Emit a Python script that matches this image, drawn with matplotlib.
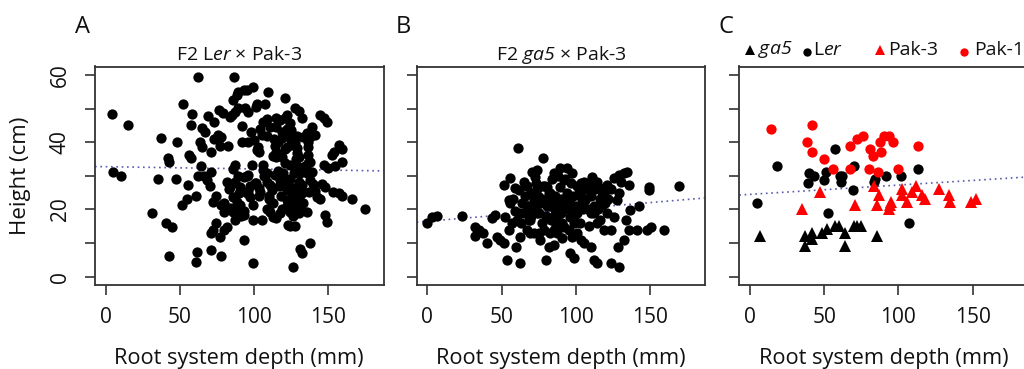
import matplotlib
matplotlib.use("Agg")
import matplotlib.pyplot as plt
from matplotlib.lines import Line2D
import numpy as np

plt.rcParams['font.family'] = ['Open Sans', 'DejaVu Sans']
plt.rcParams['mathtext.fontset'] = 'custom'
plt.rcParams['mathtext.rm'] = 'Open Sans'
plt.rcParams['mathtext.it'] = 'Open Sans:italic'
plt.rcParams['mathtext.sf'] = 'Open Sans:italic'

# ---------------- Data ----------------
# Panel A: F2 Ler x Pak-3 (root depth mm, height cm)
a_x = [4.3, 14.8, 5.2, 10.1, 37.1, 48, 41.8, 42.7, 35, 47.2, 31, 40.7, 45, 43,
       52, 58, 57.5, 56.4, 57.5, 55.3, 51.2, 54.6, 60.9, 61.4, 60.9, 62, 63.6, 65,
       64, 62, 66, 68, 69, 65, 67, 73, 73, 71, 71, 70.5, 71, 72.5, 74, 74, 72.5,
       71, 77.8, 76.6, 79, 76, 78, 77, 82.7, 83.8, 85, 77, 79.8, 81.6, 78, 80,
       83.8, 86, 81.6, 83.8, 86.7, 86, 88.3, 89.4, 92.9, 95, 99, 87.2, 89.4, 94,
       96, 87.2, 86, 87.2, 89.4, 90.6, 93, 96, 86, 88.3, 90.6, 88.8, 87.2, 93,
       93, 93.5, 92, 96, 95, 97.3, 96, 98.7, 99.6, 99.6, 100, 101, 101.8, 107.4,
       102.5, 101.8, 103.6, 105, 109, 100.7, 103, 104, 106, 106, 109, 109.7, 106,
       109, 110.8, 108.5, 110.8, 112, 108.5, 110.8, 113, 115, 117.5, 115, 117.5,
       115, 118.6, 113.5, 116.4, 118.6, 115, 118.6, 115, 119.8, 116.4, 114, 117.5,
       119.8, 121, 122, 121, 124.3, 123, 125, 124, 122, 125, 121, 124.3, 122,
       124.3, 126.5, 122, 125.4, 126.5, 122, 124.3, 126.5, 123, 124.3, 127.6, 126,
       127.6, 130, 132, 127.6, 129, 129, 130, 130, 132, 130, 132, 129, 130, 132,
       129, 131, 130, 131, 132, 137.7, 135.5, 133, 135.5, 137.7, 136.5, 139,
       141.3, 136.5, 136.5, 135.5, 139, 137.7, 140, 141.3, 137, 142.2, 144.5,
       144.5, 146.8, 149, 145.6, 147.9, 146.8, 150, 148, 149, 152.5, 153.7, 157,
       159, 159, 153.5, 157, 159, 165.8, 174.4, 154.6,
       112, 118, 125, 131, 120, 127, 134, 113, 121, 128, 110, 117, 124, 131, 138,
       114, 122, 129, 136, 119, 126, 133, 92, 98, 104, 83, 90, 97, 103, 110,
       80, 85, 91, 99, 105, 95, 101, 107, 113]
a_y = [48.3, 45.2, 31.3, 30.1, 41.2, 40.1, 35.3, 34.1, 29.1, 29.1, 19.1, 16.1,
       14.9, 6, 51.3, 48.3, 45.2, 36.1, 35.2, 27.2, 21.2, 23.1, 24.1, 7.2, 4.5,
       59.4, 40.2, 38.7, 33.1, 30, 30, 28.8, 47.9, 44.2, 43.2, 46.2, 41.1, 37.1,
       31.1, 27.1, 12.9, 13.9, 16.1, 24.1, 22.3, 7.9, 6, 49.7, 48.7, 42.3, 41.7,
       39, 39, 47.7, 48.2, 11.9, 13.9, 14.9, 21.2, 19.2, 20.4, 19.2, 28.3, 26.8,
       59.4, 52.6, 54.1, 55.1, 55.6, 55.6, 56.4, 48.9, 50.1, 50.1, 48.9, 33.3,
       32.1, 28.3, 30.1, 26.8, 29.8, 30.3, 23.8, 22.3, 21.4, 18.9, 16.9, 19.4,
       18.4, 10.9, 40.2, 40.2, 24.8, 23.8, 25.6, 33.2, 21.2, 4, 40.7, 50.4, 51.3,
       51.3, 38.7, 37.7, 37.2, 42.3, 42, 27.8, 26.3, 25.3, 33.2, 31.8, 30.8, 55.1,
       46.2, 46.9, 44.7, 28.3, 27.3, 25.8, 20.1, 19.2, 17.9, 17.4, 18.9, 47.2,
       46.7, 44.7, 43.2, 40.9, 40.2, 41.2, 37.2, 35.7, 35.7, 30.8, 31.5, 30.3,
       28.8, 27.3, 53.1, 48.2, 47.2, 45.7, 42.7, 43.7, 41.2, 38.7, 39.2, 33.8,
       33.3, 25.8, 26.8, 25.8, 22.8, 23.8, 22.3, 20.9, 19.2, 20.4, 15.4, 15.1,
       15.1, 3, 50.1, 49.2, 47.2, 40.2, 38.2, 36.7, 35.7, 32.8, 32.3, 28.3, 27.3,
       26.8, 23.8, 24.8, 22.8, 20.4, 18.9, 8.1, 7, 9.9, 19.2, 41.7, 42.7, 41.7,
       38.7, 44.7, 42.2, 36.2, 33.8, 30.8, 31.3, 28.8, 27.6, 25.6, 25.1, 23.6,
       23.1, 48.2, 47.2, 46.2, 27.6, 26.8, 33.2, 32.3, 18.4, 16.2, 36.1, 37.2,
       39.2, 38, 34.1, 25.3, 25, 24.1, 23.1, 20.1, 33.1,
       22, 24, 21, 26, 29, 31, 33, 36, 38, 35, 24, 27, 29, 31, 34, 39, 44, 42,
       40, 20, 18, 22, 45, 43, 44, 26, 25, 27, 24, 23, 22, 20, 18, 17, 17, 30,
       28, 30, 22]

# Panel B: F2 ga5 x Pak-3
b_x = [0, 3.4, 6.3, 23.2, 31.8, 34.5, 32.2, 37.8, 40, 43.5, 45.7, 46.8, 49,
       51.4, 52.5, 51.4, 55.9, 54.7, 55.9, 57, 54.7, 53.6, 62.2, 61, 59.2, 61.5,
       64.9, 59.2, 62.6, 60.4, 62.6, 59.9, 67.1, 68.2, 67.1, 69.4, 70.5, 73.9,
       72.7, 77.9, 80.2, 71.6, 75, 73.9, 76.1, 79.5, 71.6, 75, 78.4, 76.1, 81.8,
       85.1, 82.9, 85.1, 85.1, 89.6, 94.1, 80.6, 82.9, 85.1, 89.6, 91.9, 94.1,
       97.5, 80.6, 86.3, 89.6, 92.8, 96.2, 100.7, 87.4, 91.9, 95.3, 98.6, 87.4,
       90.8, 97.5, 100.9, 95.9, 98.6, 103.2, 105.4, 107.7, 110, 103.2, 106.5,
       103.2, 105.4, 110, 112.2, 114, 111, 114.4, 116.6, 117.8, 121.2, 125.7,
       129, 132.4, 134.7, 130.2, 117.8, 112.2, 116.6, 121.2, 118.9, 123.4, 125.7,
       123.4, 129, 128.4, 132.4, 127.9, 129, 135.8, 136.5, 133.6, 135.8, 141.4,
       142.6, 148, 150.5, 159.5, 149.3, 149.3, 169.6,
       66, 70, 74, 78, 82, 86, 90, 94, 98, 102, 106, 110, 68, 72, 76, 80, 84, 88,
       92, 96, 100, 104, 108, 112, 116, 65, 70, 75, 80, 85, 90, 95, 100, 105,
       110, 115, 120, 67, 73, 79, 84, 88, 93, 97, 101, 107, 113, 119, 124, 63,
       69, 77, 83, 87, 91, 99, 103, 109, 114, 58, 64, 71, 81, 94, 104, 118, 122]
b_y = [16.1, 17.9, 18.1, 18.1, 14.9, 13.9, 12.1, 12.9, 9.9, 17.4, 18.4, 11.9,
       10.9, 9.9, 17.9, 27.3, 29.3, 22.8, 21.8, 15.9, 13.9, 5, 4, 38.2, 26.3,
       25.8, 28.3, 19.4, 18.9, 16.9, 11.9, 8.9, 20.9, 16.9, 13.9, 12.9, 31.3,
       31.8, 29.8, 35.3, 5, 22.8, 23.8, 18.9, 21.8, 22.8, 12.9, 12.9, 13.9, 10.9,
       8.9, 9.4, 12.9, 13.9, 30.8, 32.3, 32.3, 26.8, 24.8, 22.8, 26.8, 28.8, 24.8,
       30.8, 20.9, 19.9, 18.9, 20.9, 17.9, 18.9, 16.9, 14.9, 13.9, 15.9, 12.9,
       11.5, 11.9, 12.9, 7, 5.5, 27.8, 28.3, 26.8, 27.3, 23.8, 22.8, 10.9, 9.9,
       8.9, 5, 4, 29.8, 28.3, 26.3, 25.3, 27.3, 29.3, 30.3, 30.8, 31.3, 28.3,
       21.4, 18.9, 16.9, 18.9, 13.9, 13.9, 17.9, 4, 3, 8.9, 10.9, 22.8, 24.8,
       27.3, 19.9, 16.9, 13.9, 13.9, 20.9, 13.9, 14.9, 13.9, 26.8, 25.8, 27.1,
       24, 25, 26, 27, 25, 24, 23, 22, 24, 25, 23, 24, 21, 20, 22, 23, 22, 21,
       22, 23, 21, 22, 20, 21, 23, 19, 18, 19, 18, 18, 19, 20, 19, 20, 19, 20,
       22, 27, 28, 27, 29, 30, 29, 28, 27, 26, 26, 25, 26, 16, 17, 16, 17, 15,
       16, 17, 16, 15, 16, 23, 22, 20, 21, 21, 22, 24, 23]

# Panel C: parents
c_ga5_x = [6.5, 37, 37, 42, 42, 48.2, 51.6, 57.6, 59.9, 63.7, 63.7, 69.9, 72.2,
           74.9, 85.7]
c_ga5_y = [12.1, 12.1, 9, 11.1, 13.1, 13.1, 14.1, 15, 15, 13.1, 9, 15, 15, 15,
           12.1]
c_ler_x = [4.5, 18.4, 39.7, 43, 39, 50.2, 50.9, 57.2, 60.6, 62.2, 61, 69.9,
           69.1, 52.7, 84.5, 83.9, 91.9, 102, 113, 106.9]
c_ler_y = [21.9, 32.9, 30.9, 29.9, 27.9, 28.9, 31.1, 38, 30.1, 30.1, 28.1, 32.9,
           25.9, 18.9, 29.1, 28.1, 29.9, 29.9, 32, 15.9]
c_pak3_x = [34.8, 46.9, 70.7, 83.9, 86.8, 85.7, 94.2, 95.1, 93.5, 102.5, 102.5,
            105.9, 109.3, 112.1, 115.9, 118.2, 127.1, 133.9, 135, 148.9, 152.3]
c_pak3_y = [20.2, 25.1, 21.2, 27.1, 24.2, 21.2, 21.2, 22.2, 20.2, 26.1, 24.2,
            22.2, 25.1, 27.1, 24.2, 23.2, 26.1, 24.2, 22.2, 22.2, 23.2]
c_pak1_x = [14, 42, 38.1, 42, 50.2, 56.1, 67.1, 67.1, 71.8, 76.3, 80.7, 83,
            87.9, 88.4, 90.2, 93.5, 96.4, 80.1, 86.1, 100, 113]
c_pak1_y = [44, 45.1, 40, 37, 35, 32, 39, 32, 41, 42, 38, 36, 40, 37, 42, 42,
            40, 32, 31.1, 32, 39]

# Fitted regression lines (intercept, slope)
fit_intercepts = [32.75, 16.5, 24.5]
fit_slopes = [-0.0067, 0.037, 0.0277]

panel_letters = ['A', 'B', 'C']
panel_titles = [r'F2 L$\mathit{er}$ × Pak-3', r'F2 $\mathsf{ga5}$ × Pak-3', None]
x_ticks = [0, 50, 100, 150]
y_ticks = [0, 10, 20, 30, 40, 50, 60]
y_ticklabels = ['0', '', '20', '', '40', '', '60']
legend_labels = [r'$\mathsf{ga5}$', r'L$\mathit{er}$', 'Pak-3', 'Pak-1']

# ---------------- Figure ----------------
W, H = 1024, 369
fig = plt.figure(figsize=(W / 100, H / 100), dpi=100)

def fx(px):
    return px / W

def fy(py):
    return (H - py) / H

box_w = 288.5
box_top, box_bot = 66.5, 285
lefts = [95, 416.7, 739.3]
axes = []
for i, L in enumerate(lefts):
    ax = fig.add_axes([fx(L), fy(box_bot), box_w / W, (box_bot - box_top) / H])
    axes.append(ax)

edge = '#333333'
txt = '#111111'
ms = 7.4
for i, ax in enumerate(axes):
    ax.set_xlim(-7.2, 187.2)
    ax.set_ylim(-2.5, 62.6)
    for s in ax.spines.values():
        s.set_color(edge)
        s.set_linewidth(1.3)
    ax.set_xticks(x_ticks)
    ax.set_yticks(y_ticks)
    ax.tick_params(direction='out', length=7.5, width=1.2, color=edge,
                   labelsize=15, labelcolor=txt)
    ax.tick_params(axis='x', pad=8)
    ax.tick_params(axis='y', pad=10)
    if i == 0:
        ax.set_yticklabels(y_ticklabels, rotation=90, va='center')
        ax.set_ylabel('Height (cm)', fontsize=16, color=txt)
        ax.yaxis.set_label_coords(-0.258, 0.5)
        ax.yaxis.label.set_va('center')
    else:
        ax.set_yticklabels([])
    ax.set_xlabel('Root system depth (mm)', fontsize=15.7, color=txt)
    ax.xaxis.set_label_coords(0.5, -0.338)
    ax.xaxis.label.set_va('center')
    ax.text(-0.045, 1.182, panel_letters[i], transform=ax.transAxes,
            fontsize=17, ha='center', va='center', color=txt)
    if panel_titles[i]:
        ax.text(0.5, 1.054, panel_titles[i], transform=ax.transAxes,
                ha='center', va='center', fontsize=14, color=txt)
    ax.axline((0, fit_intercepts[i]), slope=fit_slopes[i], color='#5a5ab0',
              linestyle=(0, (1, 2.2)), linewidth=1.2, zorder=1)

axes[0].plot(a_x, a_y, 'o', color='black', markersize=ms, markeredgewidth=0, zorder=3)
axes[1].plot(b_x, b_y, 'o', color='black', markersize=ms, markeredgewidth=0, zorder=3)
axes[2].plot(c_ga5_x, c_ga5_y, '^', color='black', markersize=ms + 0.8, markeredgewidth=0, zorder=3)
axes[2].plot(c_ler_x, c_ler_y, 'o', color='black', markersize=ms, markeredgewidth=0, zorder=3)
axes[2].plot(c_pak3_x, c_pak3_y, '^', color='#ff0000', markersize=ms + 0.8, markeredgewidth=0, zorder=3)
axes[2].plot(c_pak1_x, c_pak1_y, 'o', color='#ff0000', markersize=ms, markeredgewidth=0, zorder=3)

# Legend for panel C (drawn above the box)
leg_y = fy(50)
leg_markers = [('^', 'black'), ('o', 'black'), ('^', '#ff0000'), ('o', '#ff0000')]
leg_marker_px = [749.5, 807, 880, 964]
leg_text_px = [758, 813, 888, 974]
for (mk, col), mx, tx, lab in zip(leg_markers, leg_marker_px, leg_text_px, legend_labels):
    fig.add_artist(Line2D([fx(mx)], [leg_y + (0.0 if mk == '^' else -0.005)],
                          marker=mk, color=col, markersize=6.0 if mk == 'o' else 6.5,
                          markeredgewidth=0, linestyle='none',
                          transform=fig.transFigure))
    fig.text(fx(tx), leg_y, lab, ha='left', va='center', fontsize=14,
             color=txt)

fig.savefig('out.png', dpi=100)
